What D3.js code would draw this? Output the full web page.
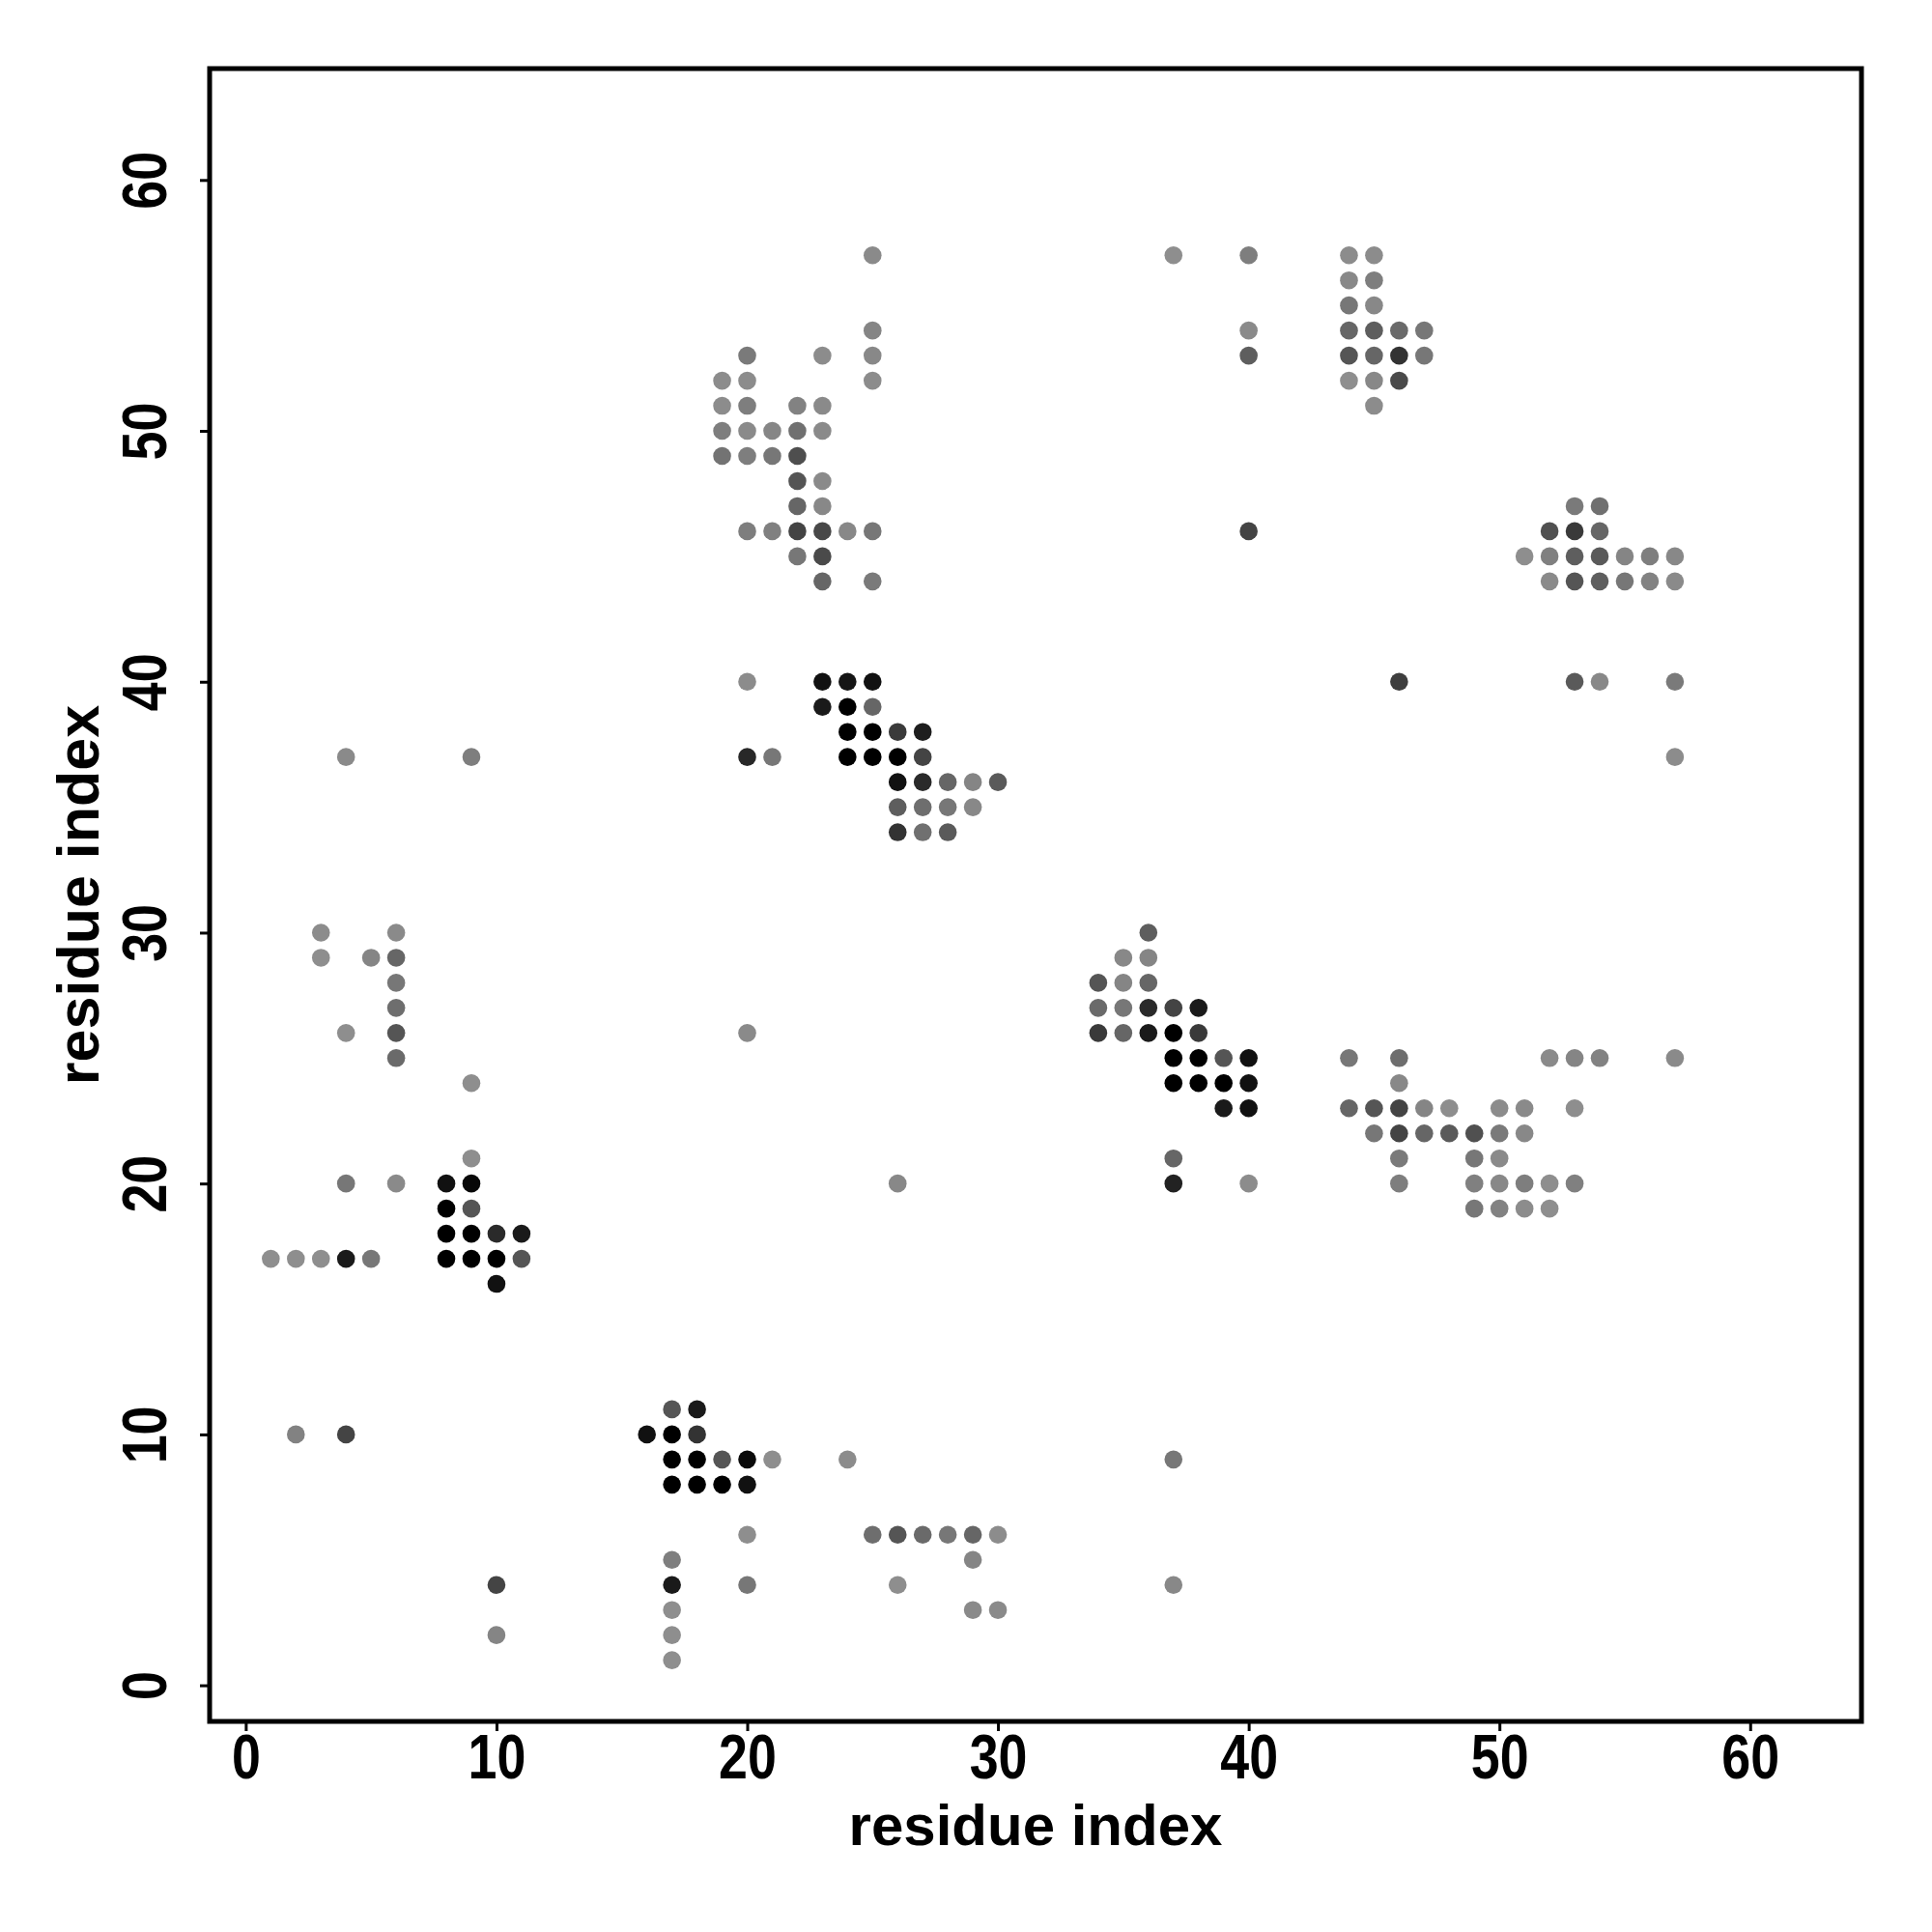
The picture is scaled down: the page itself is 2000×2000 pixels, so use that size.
<!DOCTYPE html>
<html><head><meta charset="utf-8">
<script src="https://cdn.jsdelivr.net/npm/d3@7"></script>
<style>
body{margin:0;background:#fff}
text{font-family:"Liberation Sans",Arial,Helvetica,sans-serif;font-weight:bold;fill:#000}
</style>
</head><body>
<svg id="chart" width="2000" height="2000"></svg>
<script>
// residue i (x)
const residueI = [
  25,37,40,44,45,
  44,45,
  44,45,
  25,40,44,45,46,47,
  20,23,25,40,44,45,46,47,
  19,20,25,44,45,46,
  19,20,22,23,45,
  19,20,21,22,23,
  19,20,21,22,
  22,23,
  22,23,53,54,
  20,21,22,23,24,25,40,52,53,54,
  22,23,51,52,53,54,55,56,57,
  23,25,52,53,54,55,56,57,
  20,23,24,25,46,53,54,57,
  23,24,25,
  24,25,26,27,
  4,9,20,21,24,25,26,27,57,
  26,27,28,29,30,
  26,27,28,29,
  26,27,28,
  3,6,36,
  3,5,6,35,36,
  6,34,35,36,
  6,34,35,36,37,38,
  4,6,20,34,35,36,37,38,
  6,37,38,39,40,44,46,52,53,54,57,
  9,37,38,39,40,46,
  39,40,44,45,46,47,48,50,51,53,
  45,46,47,48,49,50,51,
  9,37,46,49,50,
  4,6,8,9,26,37,40,46,49,50,51,52,53,
  8,9,49,50,51,52,
  8,9,10,11,
  1,2,3,4,5,8,9,10,11,
  10,
  17,18,
  2,4,16,17,18,
  17,18,19,20,21,24,37,
  17,18,19,20,
  20,25,26,27,28,29,30,
  17,29,
  10,17,20,26,37,
  17,29,30,
  10,17,
  17
];
// residue j (y)
const residueJ = [
  57,57,57,57,57,
  56,56,
  55,55,
  54,54,54,54,54,54,
  53,53,53,53,53,53,53,53,
  52,52,52,52,52,52,
  51,51,51,51,51,
  50,50,50,50,50,
  49,49,49,49,
  48,48,
  47,47,47,47,
  46,46,46,46,46,46,46,46,46,46,
  45,45,45,45,45,45,45,45,45,
  44,44,44,44,44,44,44,44,
  40,40,40,40,40,40,40,40,
  39,39,39,
  38,38,38,38,
  37,37,37,37,37,37,37,37,37,
  36,36,36,36,36,
  35,35,35,35,
  34,34,34,
  30,30,30,
  29,29,29,29,29,
  28,28,28,28,
  27,27,27,27,27,27,
  26,26,26,26,26,26,26,26,
  25,25,25,25,25,25,25,25,25,25,25,
  24,24,24,24,24,24,
  23,23,23,23,23,23,23,23,23,23,
  22,22,22,22,22,22,22,
  21,21,21,21,21,
  20,20,20,20,20,20,20,20,20,20,20,20,20,
  19,19,19,19,19,19,
  18,18,18,18,
  17,17,17,17,17,17,17,17,17,
  16,
  11,11,
  10,10,10,10,10,
  9,9,9,9,9,9,9,
  8,8,8,8,
  6,6,6,6,6,6,6,
  5,5,
  4,4,4,4,4,
  3,3,3,
  2,2,
  1
];
// grey level of each contact (0 = black, 255 = white)
const greyLevel = [
  138,142,126,140,140,
  136,126,
  119,136,
  133,138,102,94,106,119,
  122,140,136,94,85,102,51,119,
  140,140,140,142,136,74,
  140,126,130,138,140,
  126,138,134,112,138,
  115,126,119,78,
  85,138,
  102,136,122,112,
  126,128,68,72,136,119,68,80,58,102,
  119,74,142,128,94,90,133,126,136,
  102,122,138,85,94,119,130,138,
  140,17,21,17,62,90,136,122,
  26,0,102,
  0,0,58,30,
  138,126,40,119,0,0,0,68,140,
  17,42,102,133,90,
  94,110,119,136,
  51,112,90,
  140,138,94,
  142,133,102,136,133,
  119,85,133,102,
  110,106,119,42,68,26,
  142,85,138,58,102,26,0,58,
  106,0,0,85,17,119,110,138,133,130,138,
  142,0,0,0,17,136,
  26,17,102,85,68,133,142,140,138,142,
  119,68,102,90,80,122,136,
  142,102,122,119,138,
  119,138,17,8,136,34,140,126,128,136,126,142,128,
  0,85,119,130,140,142,
  0,0,42,26,
  142,142,142,26,119,0,0,0,85,
  17,
  85,26,
  130,68,17,0,51,
  0,0,85,10,142,140,119,
  0,0,0,17,
  142,110,85,106,119,102,140,
  126,133,
  68,26,119,142,136,
  142,138,138,
  133,142,
  142
];
const tickValues = [0,10,20,30,40,50,60];
const xTitle = "residue index";
const yTitle = "residue index";
const dataRange = [1, 62];

(function(){
const points = residueI.map((v,i)=>({x:v, y:residueJ[i], g:greyLevel[i]}));

const svg = d3.select("#chart");
const pL = 217, pR = 1927, pT = 71, pB = 1782;
const pad = (dataRange[1]-dataRange[0])*0.04;
const x = d3.scaleLinear().domain([dataRange[0]-pad, dataRange[1]+pad]).range([pL, pR]);
const y = d3.scaleLinear().domain([dataRange[0]-pad, dataRange[1]+pad]).range([pB, pT]);

// points
svg.append("g").selectAll("circle").data(points).join("circle")
  .attr("cx", d=>x(d.x)).attr("cy", d=>y(d.y)).attr("r", 9.3)
  .attr("fill", d=>d3.rgb(d.g,d.g,d.g).toString());

const tickFont = 64, squeeze = 0.84;

// axes
const xAxis = svg.append("g").attr("transform",`translate(0,${pB})`)
  .call(d3.axisBottom(x).tickValues(tickValues).tickSize(10).tickFormat(d3.format("d")));
xAxis.select(".domain").remove();
xAxis.selectAll(".tick line").attr("stroke","#000").attr("stroke-width",3);
xAxis.selectAll(".tick text")
  .attr("y", null).attr("dy", null)
  .attr("font-size",tickFont).attr("font-family","'Liberation Sans',Arial,sans-serif").attr("font-weight","bold")
  .attr("transform",`translate(0,59) scale(${squeeze},1)`);

const yAxis = svg.append("g").attr("transform",`translate(${pL},0)`)
  .call(d3.axisLeft(y).tickValues(tickValues).tickSize(10).tickFormat(d3.format("d")));
yAxis.select(".domain").remove();
yAxis.selectAll(".tick line").attr("stroke","#000").attr("stroke-width",3);
yAxis.selectAll(".tick text")
  .attr("x",null).attr("dy",null)
  .attr("font-size",tickFont).attr("font-family","'Liberation Sans',Arial,sans-serif").attr("font-weight","bold")
  .attr("text-anchor","middle")
  .attr("transform",`translate(${172-pL},0) rotate(-90) scale(${squeeze},1)`);

// frame
svg.append("rect").attr("x",pL).attr("y",pT).attr("width",pR-pL).attr("height",pB-pT)
  .attr("fill","none").attr("stroke","#000").attr("stroke-width",5);

// titles
svg.append("text").attr("x",(pL+pR)/2).attr("y",1910).attr("text-anchor","middle")
  .attr("font-size",60).text(xTitle);
svg.append("text").attr("transform",`translate(102,${(pT+pB)/2}) rotate(-90)`)
  .attr("text-anchor","middle").attr("font-size",61).text(yTitle);
})();
</script>
</body></html>
